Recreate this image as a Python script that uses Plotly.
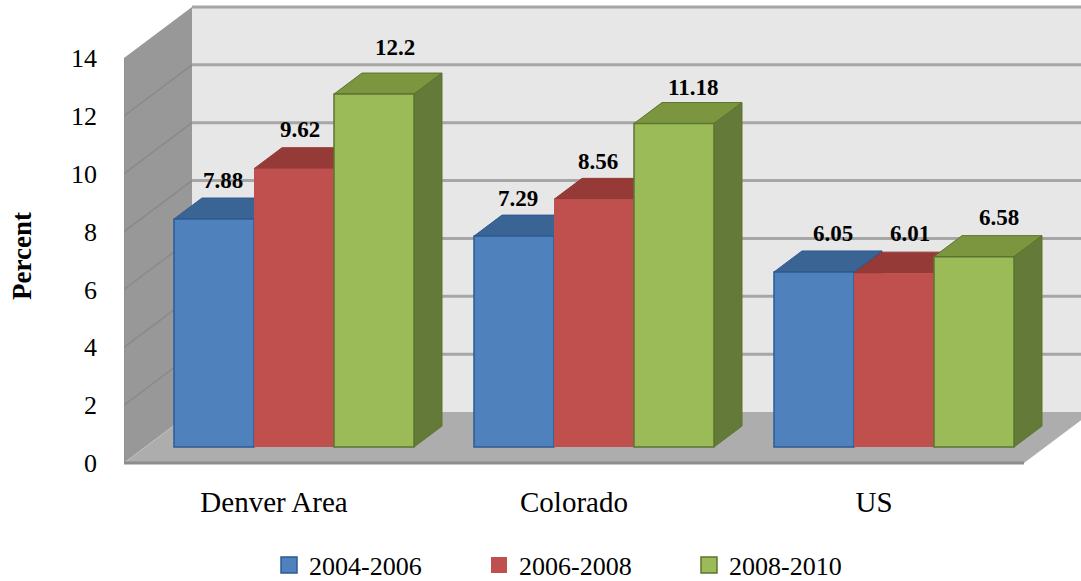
import plotly.graph_objects as go

categories = ['Denver Area', 'Colorado', 'US']
series_names = ['2004-2006', '2006-2008', '2008-2010']
values_2004 = [7.88, 7.29, 6.05]
values_2006 = [9.62, 8.56, 6.01]
values_2008 = [12.2, 11.18, 6.58]
y_ticks = [0, 2, 4, 6, 8, 10, 12, 14]

FONT = 'Liberation Serif'
FRONT = ['#4f81bd', '#c0504d', '#9bbb59']
TOP = ['#3a6494', '#953a37', '#7c9640']
SIDE = ['#32557f', '#7f322f', '#647a38']
EDGE = ['#2c5a94', '#c0504d', '#5c7430']

# pixel scales of the plot area, used for the oblique "3D" offsets
PX_X = 300.0
PX_Y = 28.93
WALL_DX, WALL_DY = 68 / PX_X, 51 / PX_Y
BAR_DX, BAR_DY = 28 / PX_X, 21 / PX_Y
BAR_SHIFT, BAR_BASE = 20 / PX_X, 16 / PX_Y
BAR_W = 80 / PX_X
X0, X1 = -0.5, 2.5


def poly(points, fill, line_color=None, line_width=0):
    path = 'M ' + ' L '.join(f'{x:.4f},{y:.4f}' for x, y in points) + ' Z'
    return dict(type='path', path=path, xref='x', yref='y', layer='below', fillcolor=fill,
                line=dict(color=line_color or fill, width=line_width))


def seg(x0, y0, x1, y1, color, width):
    return dict(type='line', x0=x0, y0=y0, x1=x1, y1=y1, xref='x', yref='y', layer='below',
                line=dict(color=color, width=width))


series = [values_2004, values_2006, values_2008]
shapes = [
    # back wall, left wall, floor
    poly([(X0 + WALL_DX, WALL_DY), (X1 + 1, WALL_DY), (X1 + 1, 14 + WALL_DY), (X0 + WALL_DX, 14 + WALL_DY)], '#e7e7e7'),
    poly([(X0, 0), (X0 + WALL_DX, WALL_DY), (X0 + WALL_DX, 14 + WALL_DY), (X0, 14)], '#989898'),
    poly([(X0, 0), (X1, 0), (X1 + WALL_DX, WALL_DY), (X0 + WALL_DX, WALL_DY)], '#adadad'),
]
for v in y_ticks[1:]:
    shapes.append(seg(X0 + WALL_DX, v + WALL_DY, X1 + 1, v + WALL_DY, '#a6a6a6', 3))
    if v < 14:
        shapes.append(seg(X0, v, X0 + WALL_DX, v + WALL_DY, '#8a8a8a', 1.5))
shapes.append(seg(X0, 0, X0 + WALL_DX, WALL_DY, '#bdbdbd', 1))
shapes.append(seg(X0, 0, X1, 0, '#8c8c8c', 3))
shapes.append(seg(X0, 0, X0, 14, '#8c8c8c', 1))

for c in range(len(categories)):
    for s, vals in enumerate(series):
        left = c + BAR_SHIFT - 1.5 * BAR_W + s * BAR_W
        right = left + BAR_W
        top = BAR_BASE + vals[c]
        shapes.append(poly([(left, top), (right, top), (right + BAR_DX, top + BAR_DY), (left + BAR_DX, top + BAR_DY)],
                           TOP[s], EDGE[s] if s != 1 else TOP[s], 1))
        shapes.append(poly([(right, BAR_BASE), (right + BAR_DX, BAR_BASE + BAR_DY), (right + BAR_DX, top + BAR_DY), (right, top)],
                           SIDE[s], EDGE[s] if s != 1 else SIDE[s], 1))

fig = go.Figure()
for s, vals in enumerate(series):
    fig.add_trace(go.Bar(
        x=[c + BAR_SHIFT for c in range(len(categories))],
        y=vals,
        base=BAR_BASE,
        marker=dict(color=FRONT[s], line=dict(color=EDGE[s], width=1.5 if s != 1 else 0)),
        showlegend=False,
    ))
for s, name in enumerate(series_names):
    # bar swatches are too small in the legend, so use square markers
    fig.add_trace(go.Scatter(
        x=[None], y=[None], mode='markers', name=name,
        marker=dict(symbol='square', size=16, color=FRONT[s], line=dict(color=EDGE[s], width=1.5 if s != 1 else 0)),
    ))

# label offsets in pixels from the front top centre of each bar
label_dx = [[10, 5, 20], [7, 5, 17], [22, 20, 26]]
label_dy = [[39, 38, 38], [39, 38, 40], [47, 36, 39]]
annotations = []
for s, vals in enumerate(series):
    for c, v in enumerate(vals):
        annotations.append(dict(
            x=c + BAR_SHIFT - BAR_W + s * BAR_W, y=BAR_BASE + v, text=str(v),
            xshift=label_dx[s][c] - 1, yshift=label_dy[s][c], showarrow=False,
            xanchor='center', yanchor='middle',
            font=dict(family=FONT, size=23, color='black', weight='bold'),
        ))
annotations.append(dict(
    xref='paper', yref='paper', x=(22 - 124) / 957, y=(467 - 256) / 462, text='Percent',
    textangle=-90, showarrow=False, xanchor='center', yanchor='middle',
    font=dict(family=FONT, size=27, color='black', weight='bold'),
))

fig.update_layout(
    width=1081,
    height=581,
    barmode='group',
    bargap=0.2,
    bargroupgap=0,
    paper_bgcolor='white',
    plot_bgcolor='rgba(0,0,0,0)',
    margin=dict(l=124, r=0, t=5, b=114, autoexpand=False),
    shapes=shapes,
    annotations=annotations,
    xaxis=dict(
        range=[X0, X0 + 957 / PX_X],
        tickvals=list(range(len(categories))),
        ticktext=categories,
        showgrid=False, zeroline=False, showline=False,
        ticks='', ticklabelstandoff=15,
        tickfont=dict(family=FONT, size=29, color='black'),
    ),
    yaxis=dict(
        # starts just under zero so the floor's front edge is not clipped
        range=[-4 / PX_Y, 458 / PX_Y],
        tickvals=y_ticks,
        showgrid=False, zeroline=False, showline=False,
        ticks='', ticklabelstandoff=26,
        tickfont=dict(family=FONT, size=26, color='black'),
    ),
    legend=dict(
        orientation='h', xref='paper', yref='paper',
        x=(269 - 124) / 957, xanchor='left',
        y=(467 - 565) / 462, yanchor='middle',
        entrywidth=165, entrywidthmode='pixels',
        font=dict(family=FONT, size=26, color='black'),
        bgcolor='rgba(0,0,0,0)',
    ),
)

# the page body has a default margin that would push the chart off the window
fig.write_html("out.html", config=dict(displayModeBar=False),
               post_script="document.body.style.margin = '0';")
